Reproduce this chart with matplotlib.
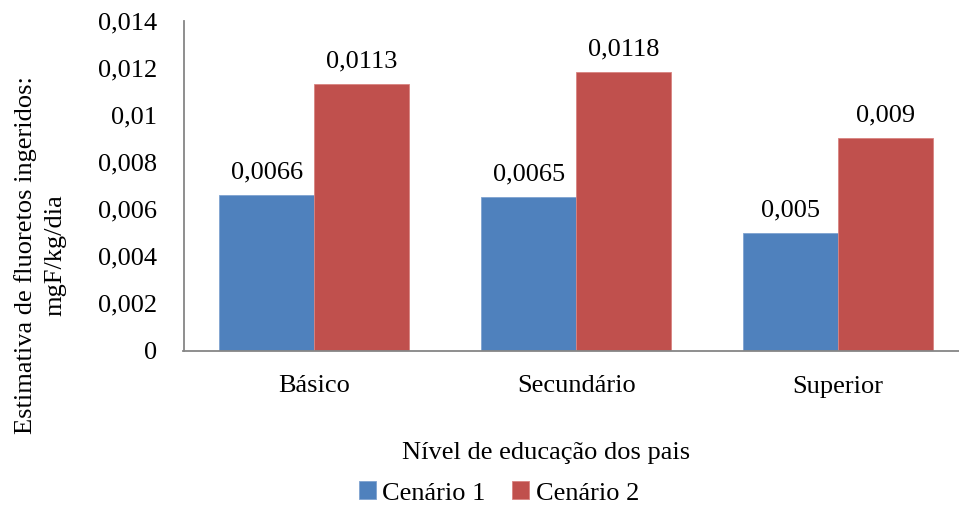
import matplotlib
matplotlib.use("Agg")
import matplotlib.pyplot as plt
import numpy as np

categories = ["Básico", "Secundário", "Superior"]
cenario_1 = [0.0066, 0.0065, 0.005]
cenario_2 = [0.0113, 0.0118, 0.009]
series_names = ["Cenário 1", "Cenário 2"]
y_ticks = [0, 0.002, 0.004, 0.006, 0.008, 0.010, 0.012, 0.014]
y_tick_labels = ["0", "0,002", "0,004", "0,006", "0,008", "0,01", "0,012", "0,014"]

BLUE = "#4F81BD"
RED = "#C0504D"
GREY = "#868686"
FONT = "Liberation Serif"
FS = 19

plt.rcParams["font.family"] = [FONT, "DejaVu Serif"]

W, H = 959, 509
fig = plt.figure(figsize=(W / 100, H / 100), dpi=100)
ax_left, ax_right, ax_top, ax_bottom = 183.5, 969.0, 20.5, 350.5
ax = fig.add_axes([ax_left / W, (H - ax_bottom) / H,
                   (ax_right - ax_left) / W, (ax_bottom - ax_top) / H])

x = np.arange(len(categories))
bw = 0.3626
b1 = ax.bar(x - bw / 2, cenario_1, bw, color=BLUE, edgecolor="#7FA3D0",
            linewidth=0.6, label=series_names[0], zorder=2)
b2 = ax.bar(x + bw / 2, cenario_2, bw, color=RED, edgecolor="#D98481",
            linewidth=0.6, label=series_names[1], zorder=2)


def fmt(v):
    return f"{v:g}".replace(".", ",")


for bars, vals in ((b1, cenario_1), (b2, cenario_2)):
    for rect, v in zip(bars, vals):
        ax.annotate(fmt(v), (rect.get_x() + rect.get_width() / 2, v),
                    xytext=(0, 12), textcoords="offset points",
                    ha="center", va="baseline", fontsize=FS)

ax.set_xlim(-0.5, len(categories) - 0.5)
ax.set_ylim(0, 0.014)
ax.set_yticks(y_ticks)
ax.set_yticklabels(y_tick_labels)
ax.set_xticks(x)
ax.set_xticklabels(categories)
ax.tick_params(axis="y", length=0, pad=19, labelsize=FS)
ax.tick_params(axis="x", length=0, pad=18, labelsize=FS)

for s in ("top", "right"):
    ax.spines[s].set_visible(False)
for s in ("left", "bottom"):
    ax.spines[s].set_color(GREY)
    ax.spines[s].set_linewidth(1.3)

fig.text(40 / W, (H - 255) / H,
         "Estimativa de fluoretos ingeridos:\nmgF/kg/dia",
         rotation=90, ha="center", va="center", multialignment="center",
         fontsize=FS, linespacing=1.45)

fig.text(546 / W, (H - 453) / H, "Nível de educação dos pais",
         ha="center", va="center", fontsize=FS)

fig.legend(handles=[b1, b2], labels=series_names, loc="center",
           bbox_to_anchor=(499 / W, (H - 493) / H), ncol=2, frameon=False,
           fontsize=FS, handlelength=0.65, handleheight=0.65,
           handletextpad=0.25, columnspacing=1.0, borderpad=0)

fig.savefig("out.png", dpi=100)
